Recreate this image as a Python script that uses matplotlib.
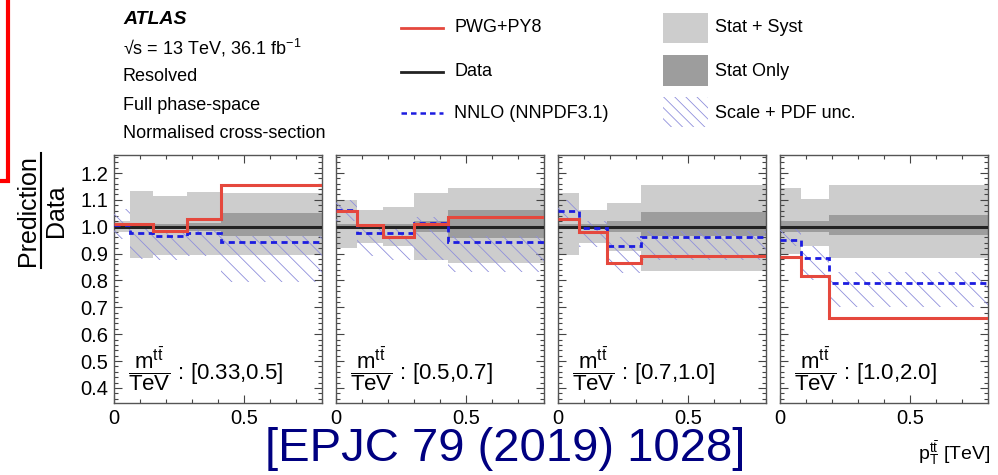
import numpy as np
import matplotlib
matplotlib.use("Agg")
import matplotlib.pyplot as plt
from matplotlib.lines import Line2D
from matplotlib.patches import Rectangle
from matplotlib.ticker import MultipleLocator, FixedLocator

#%% --- Data ---

mtt_labels = ["[0.33,0.5]", "[0.5,0.7]", "[0.7,1.0]", "[1.0,2.0]"]

edges_1 = [0, 0.06, 0.15, 0.28, 0.41, 0.8]
pwg_1 = [1.01, 1.01, 0.985, 1.03, 1.155]
nnlo_1 = [1.005, 0.975, 0.965, 0.975, 0.945]
tot_hi_1 = [1.02, 1.134, 1.115, 1.13, 1.126]
tot_lo_1 = [0.98, 0.882, 0.895, 0.895, 0.895]
stat_hi_1 = [1.01, 1.01, 1.01, 1.015, 1.052]
stat_lo_1 = [0.99, 0.99, 0.99, 0.985, 0.965]
unc_hi_1 = [1.065, 0.995, 0.985, 0.995, 0.965]
unc_lo_1 = [0.955, 0.88, 0.875, 0.89, 0.795]

edges_2 = [0, 0.08, 0.18, 0.30, 0.43, 0.8]
pwg_2 = [1.058, 1.006, 0.96, 1.01, 1.037]
nnlo_2 = [1.064, 0.978, 0.975, 1.015, 0.942]
tot_hi_2 = [1.10, 1.064, 1.072, 1.126, 1.143]
tot_lo_2 = [0.92, 0.94, 0.93, 0.876, 0.864]
stat_hi_2 = [1.01, 1.01, 1.01, 1.02, 1.062]
stat_lo_2 = [0.99, 0.99, 0.99, 0.98, 0.957]
unc_hi_2 = [1.10, 0.995, 0.99, 1.035, 0.965]
unc_lo_2 = [1.02, 0.89, 0.876, 0.876, 0.833]

edges_3 = [0, 0.08, 0.19, 0.32, 0.8]
pwg_3 = [1.03, 0.98, 0.864, 0.89]
nnlo_3 = [1.058, 0.996, 0.93, 0.963]
tot_hi_3 = [1.124, 1.062, 1.087, 1.157]
tot_lo_3 = [0.895, 0.94, 0.91, 0.835]
stat_hi_3 = [1.01, 1.01, 1.02, 1.056]
stat_lo_3 = [0.99, 0.99, 0.98, 0.965]
unc_hi_3 = [1.10, 1.02, 0.96, 0.985]
unc_lo_3 = [1.02, 0.926, 0.827, 0.876]

edges_4 = [0, 0.08, 0.19, 0.8]
pwg_4 = [0.886, 0.818, 0.659]
nnlo_4 = [0.95, 0.885, 0.79]
tot_hi_4 = [1.145, 1.103, 1.155]
tot_lo_4 = [0.90, 0.93, 0.882]
stat_hi_4 = [1.02, 1.02, 1.043]
stat_lo_4 = [0.98, 0.98, 0.97]
unc_hi_4 = [0.99, 0.93, 0.833]
unc_lo_4 = [0.93, 0.80, 0.703]

panels = [
    (edges_1, pwg_1, nnlo_1, tot_hi_1, tot_lo_1, stat_hi_1, stat_lo_1, unc_hi_1, unc_lo_1),
    (edges_2, pwg_2, nnlo_2, tot_hi_2, tot_lo_2, stat_hi_2, stat_lo_2, unc_hi_2, unc_lo_2),
    (edges_3, pwg_3, nnlo_3, tot_hi_3, tot_lo_3, stat_hi_3, stat_lo_3, unc_hi_3, unc_lo_3),
    (edges_4, pwg_4, nnlo_4, tot_hi_4, tot_lo_4, stat_hi_4, stat_lo_4, unc_hi_4, unc_lo_4),
]

#%% --- Style ---

plt.rcParams["font.family"] = ["Liberation Sans", "DejaVu Sans"]
plt.rcParams["mathtext.fontset"] = "custom"
plt.rcParams["mathtext.rm"] = "Liberation Sans"
plt.rcParams["mathtext.it"] = "Liberation Sans:italic"
plt.rcParams["mathtext.bf"] = "Liberation Sans:bold"
plt.rcParams["hatch.linewidth"] = 0.6

RED = "#e5483d"
BLUE = "#1c1ce0"
DATA = "#222222"
LIGHT = "#cdcdcd"
DARK = "#9d9d9d"
HATCH = "#8f8fdc"

W, H = 998, 475


def fx(x):
    return x / W


def fy(y):
    return 1 - y / H


fig = plt.figure(figsize=(9.98, 4.75), dpi=100)

lefts = [114, 336, 558, 780]
top_px, bot_px = 155, 403
width_px = 208

for i, (edges, pwg, nnlo, thi, tlo, shi, slo, uhi, ulo) in enumerate(panels):
    ax = fig.add_axes([fx(lefts[i]), fy(bot_px), width_px / W, (bot_px - top_px) / H])
    edges = np.array(edges)
    left = edges[:-1]
    wid = np.diff(edges)
    thi, tlo = np.array(thi), np.array(tlo)
    shi, slo = np.array(shi), np.array(slo)
    uhi, ulo = np.array(uhi), np.array(ulo)

    ax.bar(left, thi - tlo, width=wid, bottom=tlo, align="edge",
           color=LIGHT, linewidth=0, zorder=1)
    ax.bar(left, shi - slo, width=wid, bottom=slo, align="edge",
           color=DARK, linewidth=0, zorder=2)
    ax.bar(left, uhi - ulo, width=wid, bottom=ulo, align="edge",
           facecolor="none", edgecolor=HATCH, hatch="\\\\", linewidth=0, zorder=3)
    ax.hlines(1.0, edges[0], edges[-1], color=DATA, lw=2.2, zorder=4)
    ax.stairs(nnlo, edges, baseline=None, color=BLUE, lw=2.0,
              linestyle=(0, (2.2, 1.6)), zorder=5)
    ax.stairs(pwg, edges, baseline=None, color=RED, lw=2.2, zorder=6)

    ax.set_xlim(0, 0.8)
    ax.set_ylim(0.344, 1.267)

    ax.xaxis.set_major_locator(FixedLocator([0, 0.5]))
    ax.xaxis.set_minor_locator(MultipleLocator(0.1))
    ax.yaxis.set_major_locator(MultipleLocator(0.1))
    ax.yaxis.set_minor_locator(MultipleLocator(0.02))
    ax.tick_params(which="both", direction="in", top=True, right=True,
                   color="#444444", width=0.8)
    ax.tick_params(which="major", length=6, labelsize=14.5, pad=4)
    ax.tick_params(which="minor", length=3)
    ax.set_xticklabels(["0", "0.5"])
    if i == 0:
        ax.set_yticklabels([f"{v:.1f}" for v in ax.get_yticks()])
    else:
        ax.tick_params(axis="y", labelleft=False)
    for sp in ax.spines.values():
        sp.set_color("#555555")
        sp.set_linewidth(1.0)

    ax.text(0.065, 0.135,
            r"$\dfrac{\mathrm{m}^{\mathrm{t\bar{t}}}}{\mathrm{TeV}}$ : " + mtt_labels[i],
            transform=ax.transAxes, fontsize=16, va="center", ha="left", zorder=7)

#%% --- y label as a fraction ---

fig.text(fx(28), fy(211), "Prediction", rotation=90, fontsize=18,
         ha="center", va="center")
fig.text(fx(56), fy(211), "Data", rotation=90, fontsize=18,
         ha="center", va="center")
fig.add_artist(Line2D([fx(41), fx(41)], [fy(153), fy(268)],
                      transform=fig.transFigure, color="black", lw=1.5))

#%% --- ATLAS label block ---

fig.text(fx(123), fy(20), "ATLAS", fontsize=14, fontweight="bold",
         fontstyle="italic", va="center")
info_lines = [r"√s = 13 TeV, 36.1 fb$^{-1}$", "Resolved", "Full phase-space",
              "Normalised cross-section"]
for k, s in enumerate(info_lines):
    fig.text(fx(123), fy(48 + 28.5 * k), s, fontsize=13, va="center")

#%% --- Legend ---

fig.add_artist(Line2D([fx(401), fx(443)], [fy(28), fy(28)],
                      transform=fig.transFigure, color=RED, lw=2.0))
fig.add_artist(Line2D([fx(401), fx(443)], [fy(72), fy(72)],
                      transform=fig.transFigure, color=DATA, lw=2.0))
fig.add_artist(Line2D([fx(401), fx(443)], [fy(113), fy(113)],
                      transform=fig.transFigure, color=BLUE, lw=1.8,
                      linestyle=(0, (2.2, 1.6))))
for y, s in zip([28, 72, 113], ["PWG+PY8", "Data", "NNLO (NNPDF3.1)"]):
    fig.text(fx(454), fy(y), s, fontsize=13, va="center")

box_rows = [(13, 43, LIGHT, None), (55, 86, DARK, None), (97, 127, "none", "\\\\\\")]
for (y0, y1, fc, hatch) in box_rows:
    fig.add_artist(Rectangle((fx(663), fy(y1)), fx(708) - fx(663), fy(y0) - fy(y1),
                             transform=fig.transFigure, facecolor=fc,
                             edgecolor=HATCH if hatch else fc, hatch=hatch,
                             linewidth=0))
for y, s in zip([28, 72, 113], ["Stat + Syst", "Stat Only", "Scale + PDF unc."]):
    fig.text(fx(715), fy(y), s, fontsize=13, va="center")

#%% --- x label, citation and red marker ---

fig.text(fx(990), fy(453), r"$\mathrm{p}_{\mathrm{T}}^{\mathrm{t\bar{t}}}$ [TeV]",
         fontsize=14, ha="right", va="center")
fig.text(fx(505), fy(449), "[EPJC 79 (2019) 1028]", fontsize=34,
         color="#000080", ha="center", va="center")

fig.add_artist(Line2D([fx(0), fx(8), fx(8)], [fy(180.5), fy(180.5), fy(0)],
                      transform=fig.transFigure, color="#ff0000", lw=3.0,
                      solid_joinstyle="miter"))

fig.savefig("out.png", dpi=100)
